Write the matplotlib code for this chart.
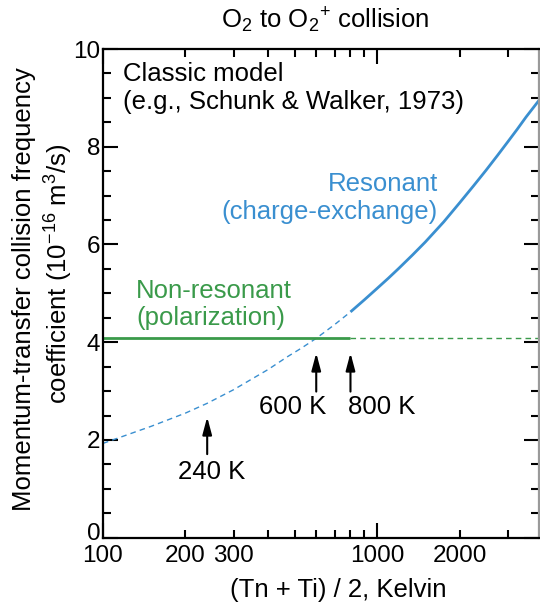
import numpy as np
import matplotlib
matplotlib.use("Agg")
import matplotlib.pyplot as plt
from matplotlib.ticker import FixedLocator, FuncFormatter
from matplotlib.transforms import ScaledTranslation

plt.rcParams['font.family'] = ['Liberation Sans', 'DejaVu Sans']
plt.rcParams['mathtext.fontset'] = 'custom'
plt.rcParams['mathtext.rm'] = 'Liberation Sans'
plt.rcParams['mathtext.it'] = 'Liberation Sans:italic'

# ---- data ----
temps = [100, 150, 200, 240, 300, 350, 400, 470, 530, 600, 700, 800, 900,
         1000, 1100, 1200, 1350, 1500, 1750, 2000, 2250, 2500, 2750, 3000, 3250, 3500, 3900]
resonant = [1.93, 2.28, 2.55, 2.75, 3.03, 3.25, 3.44, 3.70, 3.88, 4.08, 4.36, 4.62, 4.87,
            5.10, 5.31, 5.51, 5.79, 6.05, 6.46, 6.85, 7.20, 7.52, 7.82, 8.10, 8.36, 8.61, 8.95]
nonres_value = 4.08
switch_T = 800
xmin, xmax = 100, 3900
ymin, ymax = 0, 10
x_major = [100, 1000]
x_minor = [200, 300, 400, 500, 600, 700, 800, 900, 2000, 3000]
x_labeled = [100, 200, 300, 1000, 2000]
y_major = [0, 2, 4, 6, 8, 10]
y_minor = [0.5, 1, 1.5, 2.5, 3, 3.5, 4.5, 5, 5.5, 6.5, 7, 7.5, 8.5, 9, 9.5]
arrow_T = [240, 600, 800]
arrow_labels = ['240 K', '600 K', '800 K']

blue = '#3a8fd0'
green = '#3a9a4a'
FS = 18.5

fig = plt.figure(figsize=(5.4, 6.07), dpi=100)
ax = fig.add_axes([103/540, 1 - 537.7/607, 436/540, 488.7/607])
ax.set_xscale('log')

T = np.array(temps, dtype=float)
R = np.array(resonant)
lo = T <= switch_T
hi = T >= switch_T
ax.plot(T[lo], R[lo], color=blue, lw=1.0, ls=(0, (4, 3)))
ax.plot(T[hi], R[hi], color=blue, lw=2.0, solid_capstyle='butt')
ax.plot([xmin, switch_T], [nonres_value, nonres_value], color=green, lw=2.0, solid_capstyle='butt')
ax.plot([switch_T, xmax], [nonres_value, nonres_value], color=green, lw=1.0, ls=(0, (4, 3)))

ax.set_xlim(xmin, xmax)
ax.set_ylim(ymin, ymax)

ax.xaxis.set_major_locator(FixedLocator(x_major))
ax.xaxis.set_minor_locator(FixedLocator(x_minor))
fmt = FuncFormatter(lambda v, p: f"{int(round(v))}" if int(round(v)) in x_labeled else "")
ax.xaxis.set_major_formatter(fmt)
ax.xaxis.set_minor_formatter(fmt)
ax.yaxis.set_major_locator(FixedLocator(y_major))
ax.yaxis.set_minor_locator(FixedLocator(y_minor))

ax.tick_params(which='both', direction='in', top=True, right=True, width=1.5,
               labelsize=17.5)
ax.tick_params(which='major', length=11)
ax.tick_params(which='minor', length=5.5)
ax.tick_params(axis='x', which='both', pad=5)
ax.tick_params(axis='y', which='both', pad=2)
for s in ax.spines.values():
    s.set_linewidth(1.6)
ax.spines['right'].set_color('#9a9a9a')

# nudge the "0" label up a little, as in the reference
fig.canvas.draw()
ylabels = ax.yaxis.get_majorticklabels()
ylabels[0].set_transform(ylabels[0].get_transform() + ScaledTranslation(0, 6/100, fig.dpi_scale_trans))

# texts
ax.text(0.046, 0.921, 'Classic model\n(e.g., Schunk & Walker, 1973)', transform=ax.transAxes,
        ha='left', va='center', fontsize=FS, linespacing=1.2)
ax.text(0.768, 0.695, 'Resonant\n(charge-exchange)', transform=ax.transAxes,
        ha='right', va='center', fontsize=FS, color=blue, multialignment='right', linespacing=1.22)
ax.text(0.076, 0.477, 'Non-resonant\n(polarization)', transform=ax.transAxes,
        ha='left', va='center', fontsize=FS, color=green, linespacing=1.12)

arrow_props = dict(arrowstyle='-|>,head_width=0.2,head_length=0.75', color='black', lw=1.5,
                   shrinkA=0, shrinkB=0, mutation_scale=14)
ax.annotate('', xy=(arrow_T[0], 2.47), xytext=(arrow_T[0], 1.71), arrowprops=arrow_props)
ax.annotate('', xy=(arrow_T[1], 3.78), xytext=(arrow_T[1], 2.99), arrowprops=arrow_props)
ax.annotate('', xy=(arrow_T[2], 3.78), xytext=(arrow_T[2], 2.99), arrowprops=arrow_props)
ax.text(250, 1.35, arrow_labels[0], ha='center', va='center', fontsize=FS)
ax.text(650, 2.68, arrow_labels[1], ha='right', va='center', fontsize=FS)
ax.text(782, 2.68, arrow_labels[2], ha='left', va='center', fontsize=FS)

fig.text(325/540, 1 - 20/607, r'O$_2$ to O$_2$$^{+}$ collision', ha='center', va='center', fontsize=FS)
fig.text(338/540, 1 - 590/607, '(Tn + Ti) / 2, Kelvin', ha='center', va='center', fontsize=FS)
fig.text(24.5/540, 1 - 289/607, 'Momentum-transfer collision frequency', rotation=90,
         ha='center', va='center', fontsize=FS)
fig.text(58.5/540, 1 - 274/607, r'coefficient (10$^{\mathrm{-16}}$ m$^3$/s)', rotation=90,
         ha='center', va='center', fontsize=FS)

fig.savefig('out.png', dpi=100)
